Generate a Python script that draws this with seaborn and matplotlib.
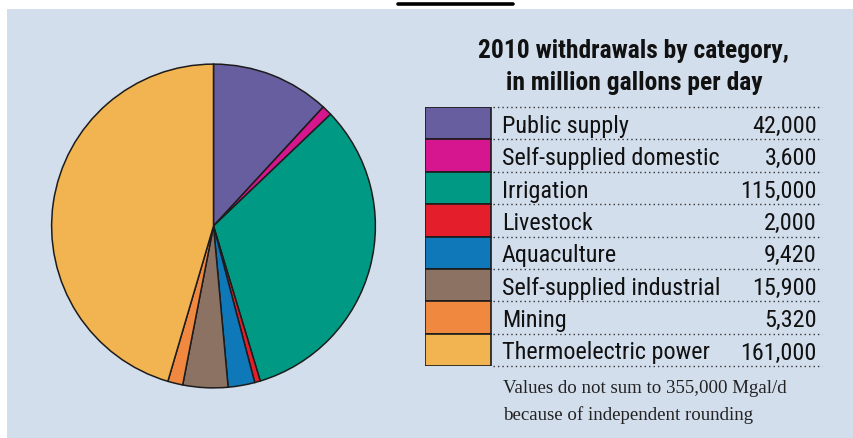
import matplotlib
matplotlib.use("Agg")
import matplotlib.pyplot as plt
from matplotlib.patches import Rectangle
import seaborn as sns
import pandas as pd

# 2010 water withdrawals, million gallons per day
categories = [
    "Public supply",
    "Self-supplied domestic",
    "Irrigation",
    "Livestock",
    "Aquaculture",
    "Self-supplied industrial",
    "Mining",
    "Thermoelectric power",
]
withdrawals = [42000, 3600, 115000, 2000, 9420, 15900, 5320, 161000]
value_labels = ["42,000", "3,600", "115,000", "2,000", "9,420", "15,900", "5,320", "161,000"]
colors = ["#675E9F", "#D5168E", "#009A84", "#E41F2B", "#0F78B8",
          "#8C7262", "#F1883F", "#F1B450"]

title_lines = ["2010 withdrawals by category,", "in million gallons per day"]
note_lines = ["Values do not sum to 355,000 Mgal/d",
              "because of independent rounding"]

sns.set_theme(style="white")
plt.rcParams["font.family"] = ["Roboto Condensed", "DejaVu Sans"]

W, H = 854, 438
BG = "#D3DEED"
EDGE = "#1c1c1c"

fig = plt.figure(figsize=(W / 100, H / 100), dpi=100, facecolor="white")


def fx(px):
    return px / W


def fy(py):
    return 1 - py / H


# panel background and the rule above it
fig.patches.append(Rectangle((fx(7), 0), 1 - fx(7), fy(9), transform=fig.transFigure,
                             facecolor=BG, edgecolor="none", zorder=-10))
fig.add_artist(plt.Line2D([fx(398), fx(513)], [fy(4), fy(4)], color="black",
                          linewidth=2.6, transform=fig.transFigure))

# pie
cx, cy, r = 213.5, 226.0, 163.5
ax_pie = fig.add_axes([fx(cx - r), fy(cy + r), 2 * r / W, 2 * r / H])
ax_pie.patch.set_alpha(0)
ax_pie.pie(withdrawals, colors=colors, startangle=90, counterclock=False, radius=1,
           wedgeprops=dict(edgecolor=EDGE, linewidth=1.1))
ax_pie.set_xlim(-1.01, 1.01)
ax_pie.set_ylim(-1.01, 1.01)
ax_pie.set_aspect("equal")
ax_pie.axis("off")

# legend table: colored swatches drawn as horizontal bars
lx0, lx1, ly0, ly1 = 425, 822, 107, 366
ax_leg = fig.add_axes([fx(lx0), fy(ly1), (lx1 - lx0) / W, (ly1 - ly0) / H])
ax_leg.patch.set_alpha(0)
swatch_w = (491 - lx0) / (lx1 - lx0)
df = pd.DataFrame({"category": categories, "swatch": [swatch_w] * len(categories)})
sns.barplot(data=df, y="category", x="swatch", hue="category", palette=colors,
            saturation=1, orient="h", width=1.0, edgecolor=EDGE, linewidth=1.2,
            legend=False, ax=ax_leg, zorder=3)
ax_leg.set_xlim(0, 1)
ax_leg.set_ylim(len(categories) - 0.5, -0.5)
ax_leg.axis("off")

row_h = (ly1 - ly0) / len(categories)
text_x = (502 - lx0) / (lx1 - lx0)
value_x = (817 - lx0) / (lx1 - lx0)
dot_x0 = (493 - lx0) / (lx1 - lx0)
base_off = 0.5 - 6.5 / row_h
for i, (cat, val) in enumerate(zip(categories, value_labels)):
    ax_leg.text(text_x, i + base_off, cat, fontsize=17.4, color="#111111",
                ha="left", va="baseline")
    ax_leg.text(value_x, i + base_off, val, fontsize=17.4, color="#111111",
                ha="right", va="baseline")
for i in range(len(categories) + 1):
    ax_leg.plot([dot_x0, 1.0], [i - 0.5, i - 0.5], color="#333333",
                linewidth=1.0, linestyle=(0, (1, 2.2)), clip_on=False)

# title
for line, base in zip(title_lines, [58, 90]):
    fig.text(fx(634), fy(base), line, fontsize=18.4, fontweight="bold",
             color="#111111", ha="center", va="baseline")

# footnote
for line, base in zip(note_lines, [393, 420]):
    fig.text(fx(503), fy(base), line, fontsize=13.6, color="#222222",
             family=["Liberation Serif", "DejaVu Serif"], ha="left", va="baseline")

fig.savefig("out.png", dpi=100, facecolor="white")
